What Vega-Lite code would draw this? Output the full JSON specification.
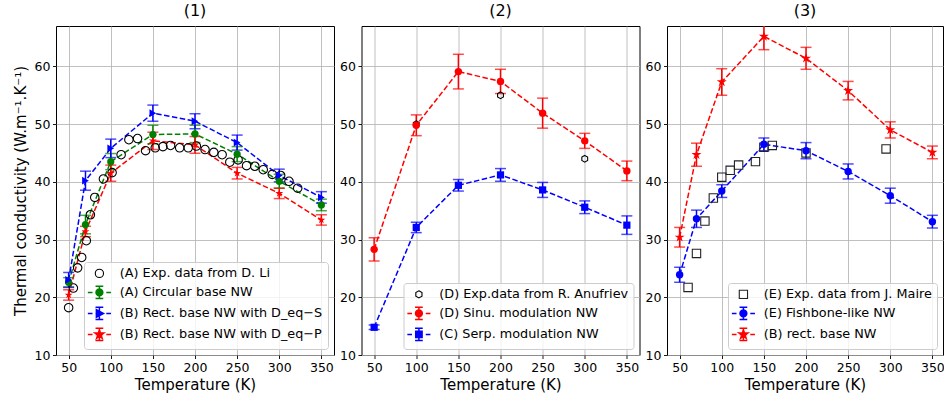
{
  "$schema": "https://vega.github.io/schema/vega-lite/v6.json",
  "padding": {"left": 12, "top": 2, "right": 0, "bottom": 3},
  "spacing": 27.5,
  "bounds": "flush",
  "resolve": {"scale": {"color": "independent", "shape": "independent", "size": "independent"}, "legend": {"color": "independent"}},
  "datasets": {
    "p1": [
      {"s": "(A) Exp. data from D. Li", "m": 0, "T": 50, "k": 18.2},
      {"s": "(A) Exp. data from D. Li", "m": 0, "T": 55.6, "k": 21.6},
      {"s": "(A) Exp. data from D. Li", "m": 0, "T": 60.7, "k": 25.1},
      {"s": "(A) Exp. data from D. Li", "m": 0, "T": 65.5, "k": 26.9},
      {"s": "(A) Exp. data from D. Li", "m": 0, "T": 71, "k": 29.8},
      {"s": "(A) Exp. data from D. Li", "m": 0, "T": 75.8, "k": 34.3},
      {"s": "(A) Exp. data from D. Li", "m": 0, "T": 81, "k": 37.3},
      {"s": "(A) Exp. data from D. Li", "m": 0, "T": 91.3, "k": 40.5},
      {"s": "(A) Exp. data from D. Li", "m": 0, "T": 101.6, "k": 41.6},
      {"s": "(A) Exp. data from D. Li", "m": 0, "T": 112.3, "k": 44.7},
      {"s": "(A) Exp. data from D. Li", "m": 0, "T": 121.5, "k": 47.3},
      {"s": "(A) Exp. data from D. Li", "m": 0, "T": 131.8, "k": 47.5},
      {"s": "(A) Exp. data from D. Li", "m": 0, "T": 141.3, "k": 45.4},
      {"s": "(A) Exp. data from D. Li", "m": 0, "T": 152.8, "k": 45.9},
      {"s": "(A) Exp. data from D. Li", "m": 0, "T": 161.9, "k": 46.1},
      {"s": "(A) Exp. data from D. Li", "m": 0, "T": 171, "k": 46.3},
      {"s": "(A) Exp. data from D. Li", "m": 0, "T": 181.8, "k": 45.9},
      {"s": "(A) Exp. data from D. Li", "m": 0, "T": 192, "k": 45.9},
      {"s": "(A) Exp. data from D. Li", "m": 0, "T": 201.6, "k": 46.2},
      {"s": "(A) Exp. data from D. Li", "m": 0, "T": 211.9, "k": 45.6},
      {"s": "(A) Exp. data from D. Li", "m": 0, "T": 222.3, "k": 45.1},
      {"s": "(A) Exp. data from D. Li", "m": 0, "T": 232.2, "k": 44.7},
      {"s": "(A) Exp. data from D. Li", "m": 0, "T": 241.3, "k": 43.4},
      {"s": "(A) Exp. data from D. Li", "m": 0, "T": 251.2, "k": 43.8},
      {"s": "(A) Exp. data from D. Li", "m": 0, "T": 261.2, "k": 42.8},
      {"s": "(A) Exp. data from D. Li", "m": 0, "T": 271, "k": 42.7},
      {"s": "(A) Exp. data from D. Li", "m": 0, "T": 281, "k": 42.1},
      {"s": "(A) Exp. data from D. Li", "m": 0, "T": 291.7, "k": 41.3},
      {"s": "(A) Exp. data from D. Li", "m": 0, "T": 301.7, "k": 41.1},
      {"s": "(A) Exp. data from D. Li", "m": 0, "T": 311.6, "k": 40.1},
      {"s": "(A) Exp. data from D. Li", "m": 0, "T": 321.9, "k": 38.9},
      {"s": "(A) Circular base NW", "m": 1, "T": 50, "k": 22.6, "e": 0.8},
      {"s": "(A) Circular base NW", "m": 1, "T": 70, "k": 32.6, "e": 1.6},
      {"s": "(A) Circular base NW", "m": 1, "T": 100, "k": 43.5, "e": 1.4},
      {"s": "(A) Circular base NW", "m": 1, "T": 150, "k": 48.2, "e": 1.6},
      {"s": "(A) Circular base NW", "m": 1, "T": 200, "k": 48.3, "e": 1.5},
      {"s": "(A) Circular base NW", "m": 1, "T": 250, "k": 44.8, "e": 1.3},
      {"s": "(A) Circular base NW", "m": 1, "T": 300, "k": 40.1, "e": 1.2},
      {"s": "(A) Circular base NW", "m": 1, "T": 350, "k": 36.0, "e": 1.0},
      {"s": "(B) Rect. base NW with D_eq−S", "m": 1, "T": 50, "k": 23.0, "e": 1.3},
      {"s": "(B) Rect. base NW with D_eq−S", "m": 1, "T": 70, "k": 40.2, "e": 1.65},
      {"s": "(B) Rect. base NW with D_eq−S", "m": 1, "T": 100, "k": 45.8, "e": 1.6},
      {"s": "(B) Rect. base NW with D_eq−S", "m": 1, "T": 150, "k": 51.9, "e": 1.4},
      {"s": "(B) Rect. base NW with D_eq−S", "m": 1, "T": 200, "k": 50.5, "e": 1.3},
      {"s": "(B) Rect. base NW with D_eq−S", "m": 1, "T": 250, "k": 46.8, "e": 1.3},
      {"s": "(B) Rect. base NW with D_eq−S", "m": 1, "T": 300, "k": 41.1, "e": 1.1},
      {"s": "(B) Rect. base NW with D_eq−S", "m": 1, "T": 350, "k": 37.3, "e": 1.0},
      {"s": "(B) Rect. base NW with D_eq−P", "m": 1, "T": 50, "k": 20.4, "e": 0.9},
      {"s": "(B) Rect. base NW with D_eq−P", "m": 1, "T": 70, "k": 31.4, "e": 0.9},
      {"s": "(B) Rect. base NW with D_eq−P", "m": 1, "T": 100, "k": 41.5, "e": 1.4},
      {"s": "(B) Rect. base NW with D_eq−P", "m": 1, "T": 150, "k": 47.1, "e": 1.5},
      {"s": "(B) Rect. base NW with D_eq−P", "m": 1, "T": 200, "k": 46.4, "e": 1.45},
      {"s": "(B) Rect. base NW with D_eq−P", "m": 1, "T": 250, "k": 41.5, "e": 1.0},
      {"s": "(B) Rect. base NW with D_eq−P", "m": 1, "T": 300, "k": 38.0, "e": 0.9},
      {"s": "(B) Rect. base NW with D_eq−P", "m": 1, "T": 350, "k": 33.4, "e": 0.9}
    ],
    "p2": [
      {"s": "(D) Exp.data from R. Anufriev", "m": 0, "T": 100, "k": 50.0},
      {"s": "(D) Exp.data from R. Anufriev", "m": 0, "T": 200, "k": 55.0},
      {"s": "(D) Exp.data from R. Anufriev", "m": 0, "T": 300, "k": 44.0},
      {"s": "(D) Sinu. modulation NW", "m": 1, "T": 50, "k": 28.3, "e": 2.0},
      {"s": "(D) Sinu. modulation NW", "m": 1, "T": 100, "k": 49.8, "e": 1.8},
      {"s": "(D) Sinu. modulation NW", "m": 1, "T": 150, "k": 59.1, "e": 3.0},
      {"s": "(D) Sinu. modulation NW", "m": 1, "T": 200, "k": 57.4, "e": 2.1},
      {"s": "(D) Sinu. modulation NW", "m": 1, "T": 250, "k": 51.9, "e": 2.6},
      {"s": "(D) Sinu. modulation NW", "m": 1, "T": 300, "k": 47.1, "e": 1.3},
      {"s": "(D) Sinu. modulation NW", "m": 1, "T": 350, "k": 41.9, "e": 1.7},
      {"s": "(C) Serp. modulation NW", "m": 1, "T": 50, "k": 14.8, "e": 0.4},
      {"s": "(C) Serp. modulation NW", "m": 1, "T": 100, "k": 32.1, "e": 0.9},
      {"s": "(C) Serp. modulation NW", "m": 1, "T": 150, "k": 39.4, "e": 1.0},
      {"s": "(C) Serp. modulation NW", "m": 1, "T": 200, "k": 41.2, "e": 1.1},
      {"s": "(C) Serp. modulation NW", "m": 1, "T": 250, "k": 38.6, "e": 1.3},
      {"s": "(C) Serp. modulation NW", "m": 1, "T": 300, "k": 35.6, "e": 1.1},
      {"s": "(C) Serp. modulation NW", "m": 1, "T": 350, "k": 32.5, "e": 1.6}
    ],
    "p3": [
      {"s": "(E) Exp. data from J. Maire", "m": 0, "T": 60, "k": 21.7},
      {"s": "(E) Exp. data from J. Maire", "m": 0, "T": 70, "k": 27.6},
      {"s": "(E) Exp. data from J. Maire", "m": 0, "T": 80, "k": 33.2},
      {"s": "(E) Exp. data from J. Maire", "m": 0, "T": 90, "k": 37.2},
      {"s": "(E) Exp. data from J. Maire", "m": 0, "T": 100, "k": 40.8},
      {"s": "(E) Exp. data from J. Maire", "m": 0, "T": 110, "k": 42.0},
      {"s": "(E) Exp. data from J. Maire", "m": 0, "T": 120, "k": 42.9},
      {"s": "(E) Exp. data from J. Maire", "m": 0, "T": 140, "k": 43.5},
      {"s": "(E) Exp. data from J. Maire", "m": 0, "T": 150, "k": 46.0},
      {"s": "(E) Exp. data from J. Maire", "m": 0, "T": 160, "k": 46.3},
      {"s": "(E) Exp. data from J. Maire", "m": 0, "T": 200, "k": 45.0},
      {"s": "(E) Exp. data from J. Maire", "m": 0, "T": 295, "k": 45.7},
      {"s": "(E) Fishbone-like NW", "m": 1, "T": 50, "k": 23.9, "e": 1.3},
      {"s": "(E) Fishbone-like NW", "m": 1, "T": 70, "k": 33.6, "e": 1.5},
      {"s": "(E) Fishbone-like NW", "m": 1, "T": 100, "k": 38.4, "e": 1.1},
      {"s": "(E) Fishbone-like NW", "m": 1, "T": 150, "k": 46.5, "e": 1.1},
      {"s": "(E) Fishbone-like NW", "m": 1, "T": 200, "k": 45.4, "e": 1.4},
      {"s": "(E) Fishbone-like NW", "m": 1, "T": 250, "k": 41.8, "e": 1.3},
      {"s": "(E) Fishbone-like NW", "m": 1, "T": 300, "k": 37.6, "e": 1.3},
      {"s": "(E) Fishbone-like NW", "m": 1, "T": 350, "k": 33.1, "e": 1.1},
      {"s": "(B) rect. base NW", "m": 1, "T": 50, "k": 30.4, "e": 1.7},
      {"s": "(B) rect. base NW", "m": 1, "T": 70, "k": 44.7, "e": 2.0},
      {"s": "(B) rect. base NW", "m": 1, "T": 100, "k": 57.3, "e": 2.3},
      {"s": "(B) rect. base NW", "m": 1, "T": 150, "k": 65.2, "e": 2.3},
      {"s": "(B) rect. base NW", "m": 1, "T": 200, "k": 61.4, "e": 1.9},
      {"s": "(B) rect. base NW", "m": 1, "T": 250, "k": 55.8, "e": 1.6},
      {"s": "(B) rect. base NW", "m": 1, "T": 300, "k": 49.0, "e": 1.4},
      {"s": "(B) rect. base NW", "m": 1, "T": 350, "k": 45.1, "e": 1.1}
    ]
  },
  "hconcat": [
    {
      "width": 278, "height": 329,
      "title": "(1)",
      "data": {"name": "p1"},
      "encoding": {
        "x": {"field": "T", "type": "quantitative", "scale": {"domain": [35, 365], "nice": false, "zero": false}, "axis": {"values": [50, 100, 150, 200, 250, 300, 350], "title": "Temperature (K)"}},
        "y": {"field": "k", "type": "quantitative", "scale": {"domain": [10, 67], "nice": false, "zero": false}, "axis": {"values": [10, 20, 30, 40, 50, 60], "title": "Thermal conductivity (W.m⁻¹.K⁻¹)"}},
        "color": {"field": "s", "type": "nominal", "scale": {"domain": ["(A) Exp. data from D. Li", "(A) Circular base NW", "(B) Rect. base NW with D_eq−S", "(B) Rect. base NW with D_eq−P"], "range": ["black", "#008000", "blue", "red"]}, "legend": {
             "encode": {"symbols": {"update": {
               "shape": {"signal": "['M-0.75,0A0.75,0.75 0 1,1 0.75,0A0.75,0.75 0 1,1 -0.75,0Z', 'M-2.1,0H-1.25M-0.7,0H0.7M1.25,0H2.1M0,-1.1V1.1M-0.7,-1.1H0.7M-0.7,1.1H0.7M-0.62,0A0.62,0.62 0 1,1 0.62,0A0.62,0.62 0 1,1 -0.62,0Z', 'M-2.1,0H-1.25M-0.7,0H0.7M1.25,0H2.1M0,-1.1V1.1M-0.7,-1.1H0.7M-0.7,1.1H0.7M-0.55,-0.7L0.75,0L-0.55,0.7Z', 'M-2.1,0H-1.25M-0.7,0H0.7M1.25,0H2.1M0,-1.1V1.1M-0.7,-1.1H0.7M-0.7,1.1H0.7M0,-0.85L0.19,-0.26L0.81,-0.26L0.31,0.1L0.5,0.69L0,0.32L-0.5,0.69L-0.31,0.1L-0.81,-0.26L-0.19,-0.26Z'][datum.index]"},
               "fillOpacity": {"signal": "datum.index == 0 ? 0 : 1"},
               "stroke": {"signal": "['black', '#008000', 'blue', 'red'][datum.index]"},
               "strokeWidth": {"signal": "datum.index == 0 ? 1.1 : 1.5"},
               "strokeDash": {"value": []},
               "size": {"value": 121},
               "opacity": {"value": 1}
             }}}
           }}
      },
      "layer": [
        {"transform": [{"filter": "datum.m == 1"}], "mark": {"type": "line", "strokeDash": [5.5, 2.5], "strokeWidth": 1.5}},
        {"transform": [{"filter": "datum.m == 1"}], "mark": {"type": "errorbar", "ticks": {"size": 11}, "thickness": 1.5},
         "encoding": {"yError": {"field": "e"}}},
        {"transform": [{"filter": "datum.m == 0"}], "mark": {"type": "point", "shape": "circle", "filled": false, "size": 72, "strokeWidth": 1.1, "opacity": 1}},
        {"transform": [{"filter": "datum.m == 1"}], "mark": {"type": "point", "filled": true, "opacity": 1},
         "encoding": {
           "shape": {"field": "s", "type": "nominal", "scale": {"domain": ["(A) Circular base NW", "(B) Rect. base NW with D_eq−S", "(B) Rect. base NW with D_eq−P"], "range": ["circle", "triangle-right", "M0,-1L0.2245,-0.309L0.951,-0.309L0.363,0.118L0.588,0.809L0,0.382L-0.588,0.809L-0.363,0.118L-0.951,-0.309L-0.2245,-0.309Z"]}, "legend": null},
           "size": {"field": "s", "type": "nominal", "scale": {"domain": ["(A) Circular base NW", "(B) Rect. base NW with D_eq−S", "(B) Rect. base NW with D_eq−P"], "range": [52, 70, 110]}, "legend": null}
         }}
      ]
    },
    {
      "width": 278, "height": 329,
      "title": "(2)",
      "data": {"name": "p2"},
      "encoding": {
        "x": {"field": "T", "type": "quantitative", "scale": {"domain": [35, 365], "nice": false, "zero": false}, "axis": {"values": [50, 100, 150, 200, 250, 300, 350], "title": "Temperature (K)"}},
        "y": {"field": "k", "type": "quantitative", "scale": {"domain": [10, 67], "nice": false, "zero": false}, "axis": {"values": [10, 20, 30, 40, 50, 60], "title": null}},
        "color": {"field": "s", "type": "nominal", "scale": {"domain": ["(D) Exp.data from R. Anufriev", "(D) Sinu. modulation NW", "(C) Serp. modulation NW"], "range": ["black", "red", "blue"]}, "legend": {
             "encode": {"symbols": {"update": {
               "shape": {"signal": "['M0,-0.65L0.56,-0.33L0.56,0.33L0,0.65L-0.56,0.33L-0.56,-0.33Z', 'M-2.1,0H-1.25M-0.7,0H0.7M1.25,0H2.1M0,-1.1V1.1M-0.7,-1.1H0.7M-0.7,1.1H0.7M-0.62,0A0.62,0.62 0 1,1 0.62,0A0.62,0.62 0 1,1 -0.62,0Z', 'M-2.1,0H-1.25M-0.7,0H0.7M1.25,0H2.1M0,-1.1V1.1M-0.7,-1.1H0.7M-0.7,1.1H0.7M-0.58,-0.58H0.58V0.58H-0.58Z'][datum.index]"},
               "fillOpacity": {"signal": "datum.index == 0 ? 0 : 1"},
               "stroke": {"signal": "['black', 'red', 'blue'][datum.index]"},
               "strokeWidth": {"signal": "datum.index == 0 ? 1.1 : 1.5"},
               "strokeDash": {"value": []},
               "size": {"value": 121},
               "opacity": {"value": 1}
             }}}
           }}
      },
      "layer": [
        {"transform": [{"filter": "datum.m == 1"}], "mark": {"type": "line", "strokeDash": [5.5, 2.5], "strokeWidth": 1.5}},
        {"transform": [{"filter": "datum.m == 1"}], "mark": {"type": "errorbar", "ticks": {"size": 11}, "thickness": 1.5},
         "encoding": {"yError": {"field": "e"}}},
        {"transform": [{"filter": "datum.m == 0"}], "mark": {"type": "point", "shape": "M0,-1L0.866,-0.5L0.866,0.5L0,1L-0.866,0.5L-0.866,-0.5Z", "filled": false, "size": 45, "strokeWidth": 1.1, "opacity": 1}},
        {"transform": [{"filter": "datum.m == 1"}], "mark": {"type": "point", "filled": true, "opacity": 1},
         "encoding": {
           "shape": {"field": "s", "type": "nominal", "scale": {"domain": ["(D) Sinu. modulation NW", "(C) Serp. modulation NW"], "range": ["circle", "square"]}, "legend": null},
           "size": {"field": "s", "type": "nominal", "scale": {"domain": ["(D) Sinu. modulation NW", "(C) Serp. modulation NW"], "range": [55, 52]}, "legend": null}
         }}
      ]
    },
    {
      "width": 276, "height": 329,
      "title": "(3)",
      "data": {"name": "p3"},
      "encoding": {
        "x": {"field": "T", "type": "quantitative", "scale": {"domain": [35, 362.6], "nice": false, "zero": false}, "axis": {"values": [50, 100, 150, 200, 250, 300, 350], "title": "Temperature (K)"}},
        "y": {"field": "k", "type": "quantitative", "scale": {"domain": [10, 67], "nice": false, "zero": false}, "axis": {"values": [10, 20, 30, 40, 50, 60], "title": null}},
        "color": {"field": "s", "type": "nominal", "scale": {"domain": ["(E) Exp. data from J. Maire", "(E) Fishbone-like NW", "(B) rect. base NW"], "range": ["#222222", "blue", "red"]}, "legend": {
             "encode": {"symbols": {"update": {
               "shape": {"signal": "['M-0.75,-0.75H0.75V0.75H-0.75Z', 'M-2.1,0H-1.25M-0.7,0H0.7M1.25,0H2.1M0,-1.1V1.1M-0.7,-1.1H0.7M-0.7,1.1H0.7M-0.62,0A0.62,0.62 0 1,1 0.62,0A0.62,0.62 0 1,1 -0.62,0Z', 'M-2.1,0H-1.25M-0.7,0H0.7M1.25,0H2.1M0,-1.1V1.1M-0.7,-1.1H0.7M-0.7,1.1H0.7M0,-0.85L0.19,-0.26L0.81,-0.26L0.31,0.1L0.5,0.69L0,0.32L-0.5,0.69L-0.31,0.1L-0.81,-0.26L-0.19,-0.26Z'][datum.index]"},
               "fillOpacity": {"signal": "datum.index == 0 ? 0 : 1"},
               "stroke": {"signal": "['#222222', 'blue', 'red'][datum.index]"},
               "strokeWidth": {"signal": "datum.index == 0 ? 1.1 : 1.5"},
               "strokeDash": {"value": []},
               "size": {"value": 121},
               "opacity": {"value": 1}
             }}}
           }}
      },
      "layer": [
        {"transform": [{"filter": "datum.m == 1"}], "mark": {"type": "line", "strokeDash": [5.5, 2.5], "strokeWidth": 1.5}},
        {"transform": [{"filter": "datum.m == 1"}], "mark": {"type": "errorbar", "ticks": {"size": 11}, "thickness": 1.5, "clip": true},
         "encoding": {"yError": {"field": "e"}}},
        {"transform": [{"filter": "datum.m == 0"}], "mark": {"type": "point", "shape": "square", "filled": false, "size": 70, "strokeWidth": 1.1, "opacity": 1}},
        {"transform": [{"filter": "datum.m == 1"}], "mark": {"type": "point", "filled": true, "opacity": 1},
         "encoding": {
           "shape": {"field": "s", "type": "nominal", "scale": {"domain": ["(E) Fishbone-like NW", "(B) rect. base NW"], "range": ["circle", "M0,-1L0.2245,-0.309L0.951,-0.309L0.363,0.118L0.588,0.809L0,0.382L-0.588,0.809L-0.363,0.118L-0.951,-0.309L-0.2245,-0.309Z"]}, "legend": null},
           "size": {"field": "s", "type": "nominal", "scale": {"domain": ["(E) Fishbone-like NW", "(B) rect. base NW"], "range": [55, 110]}, "legend": null}
         }}
      ]
    }
  ],
  "config": {
    "font": "DejaVu Sans",
    "view": {"stroke": "black", "strokeWidth": 1},
    "axis": {"domain": false, "tickColor": "black", "tickSize": 3.5, "tickWidth": 0.9, "labelFont": "DejaVu Sans", "labelFontSize": 12.5, "labelColor": "black", "labelPadding": 2.5, "grid": true, "gridColor": "#b0b0b0", "gridWidth": 0.8, "titleFont": "DejaVu Sans", "titleFontSize": 15, "titleFontWeight": "normal", "titleColor": "black"},
    "axisX": {"titlePadding": 4},
    "axisY": {"titlePadding": 6},
    "title": {"font": "DejaVu Sans", "fontSize": 16, "fontWeight": "normal", "color": "black", "offset": 7},
    "legend": {"orient": "bottom-right", "offset": 6, "title": null, "labelFont": "DejaVu Sans", "labelFontSize": 12.8, "labelColor": "black", "labelLimit": 400, "symbolSize": 121, "symbolOffset": 4, "labelOffset": 14, "rowPadding": 2, "padding": 5, "fillColor": "rgba(255,255,255,0.8)", "strokeColor": "#cccccc", "cornerRadius": 3, "symbolStrokeWidth": 1.5}
  }
}
